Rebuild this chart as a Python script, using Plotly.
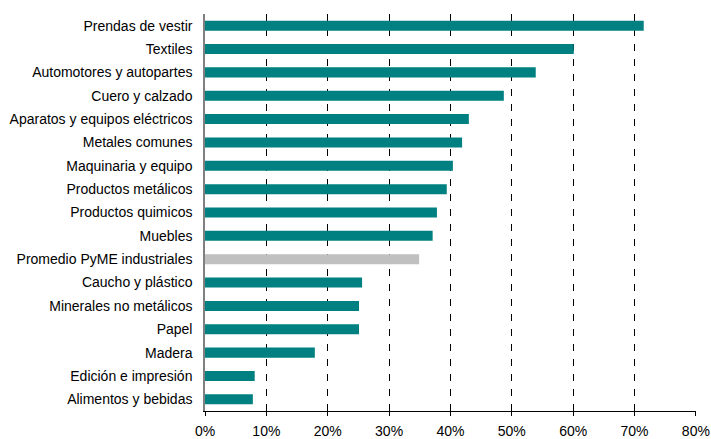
import plotly.graph_objects as go

categories = [
    "Prendas de vestir", "Textiles", "Automotores y autopartes", "Cuero y calzado",
    "Aparatos y equipos eléctricos", "Metales comunes", "Maquinaria y equipo",
    "Productos metálicos", "Productos quimicos", "Muebles", "Promedio PyME industriales",
    "Caucho y plástico", "Minerales no metálicos", "Papel", "Madera",
    "Edición e impresión", "Alimentos y bebidas",
]
values = [0.715, 0.601, 0.539, 0.487, 0.430, 0.419, 0.404, 0.394, 0.378, 0.371, 0.349,
          0.256, 0.251, 0.251, 0.179, 0.081, 0.078]
highlight = "Promedio PyME industriales"

x_ticks = [0, 0.1, 0.2, 0.3, 0.4, 0.5, 0.6, 0.7, 0.8]
x_tick_labels = ["0%", "10%", "20%", "30%", "40%", "50%", "60%", "70%", "80%"]

colors = ["#C0C0C0" if c == highlight else "#008080" for c in categories]

fig = go.Figure(go.Bar(
    x=values, y=categories, orientation="h",
    marker=dict(color=colors, line=dict(width=0)),
    width=0.43,
))

font = dict(family="Liberation Sans, Arial, sans-serif", size=14, color="#000000")

fig.update_layout(
    width=711, height=439,
    margin=dict(l=205, r=15, t=14, b=28, autoexpand=False),
    paper_bgcolor="white", plot_bgcolor="white",
    font=font,
    showlegend=False,
)
fig.update_xaxes(
    range=[0, 0.8002], tickvals=x_ticks, ticktext=x_tick_labels,
    showgrid=True, gridcolor="#000000", gridwidth=1, griddash="7px,8px",
    zeroline=False, showline=True, linecolor="#000000", linewidth=1,
    ticks="outside", ticklen=4, tickcolor="#000000", ticklabelstandoff=3,
    tickfont=font, automargin=False,
)
fig.update_yaxes(
    categoryorder="array", categoryarray=categories,
    range=[len(categories) - 0.5, -0.5],
    showgrid=False, zeroline=False, showline=True, linecolor="#808080", linewidth=1.5,
    ticks="", ticklabelstandoff=8, tickfont=font, automargin=False,
)

# remove the browser's default body margin so the figure fills the window exactly
fig.write_html(
    "out.html",
    config={"displayModeBar": False},
    post_script="document.body.style.margin='0';document.body.style.overflow='hidden';",
)
